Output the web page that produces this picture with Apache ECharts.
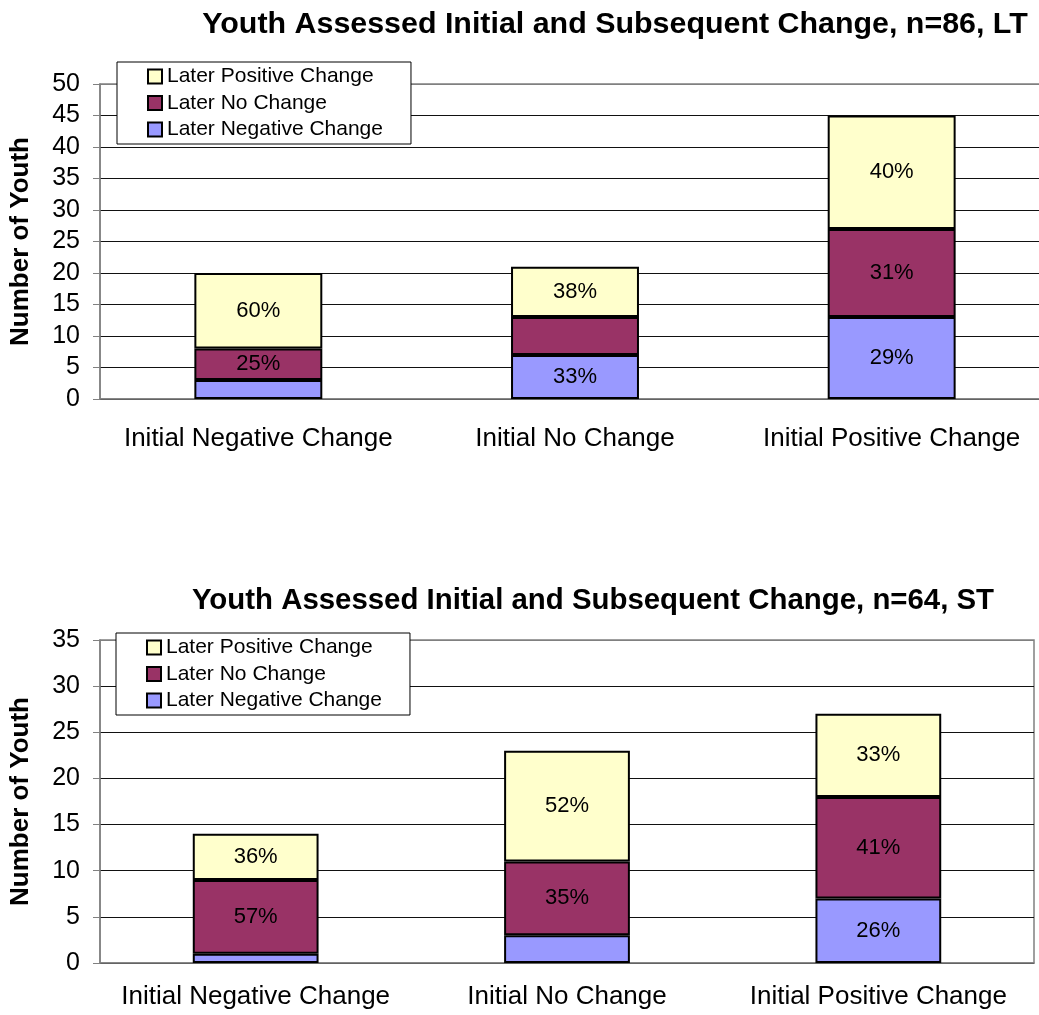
<!DOCTYPE html>
<html>
<head>
<meta charset="utf-8">
<title>Youth Assessed Initial and Subsequent Change</title>
<script src="https://cdn.jsdelivr.net/npm/echarts@6/dist/echarts.min.js"></script>
<style>
  html, body { margin: 0; padding: 0; background: #fff; overflow: hidden; }
  /* the top plot runs past the right edge of the page in the original */
  #chart { width: 1060px; height: 1015px; }
</style>
</head>
<body>
<div id="chart"></div>
<script>
// categories shared by both charts
var categories = ['Initial Negative Change', 'Initial No Change', 'Initial Positive Change'];
var seriesNames = ['Later Negative Change', 'Later No Change', 'Later Positive Change'];

// LT, n=86
var ltNegative = [3, 7, 13];
var ltNoChange = [5, 6, 14];
var ltPositive = [12, 8, 18];
var ltNegLabels = [null, '33%', '29%'];
var ltNoLabels = ['25%', null, '31%'];
var ltPosLabels = ['60%', '38%', '40%'];

// ST, n=64
var stNegative = [1, 3, 7];
var stNoChange = [8, 8, 11];
var stPositive = [5, 12, 9];
var stNegLabels = [null, null, '26%'];
var stNoLabels = ['57%', '35%', '41%'];
var stPosLabels = ['36%', '52%', '33%'];

var ltMax = 50, stMax = 35, yStep = 5;

var colors = ['#9999FF', '#993366', '#FFFFCC'];
var font = 'Liberation Sans, Arial, sans-serif';

function splitColors(max) {
  var arr = [];
  for (var i = 0; i <= max / yStep; i++) arr.push(i === max / yStep ? '#808080' : '#111');
  return arr;
}

function barSeries(name, data, labels, idx, stack, color) {
  return {
    name: name,
    type: 'bar',
    stack: stack,
    xAxisIndex: idx,
    yAxisIndex: idx,
    barWidth: '40.4%',
    data: data,
    itemStyle: { color: color, borderColor: '#000', borderWidth: 2 },
    label: {
      show: true,
      position: 'inside',
      color: '#000',
      fontFamily: font,
      fontSize: 22,
      formatter: function (p) { return labels[p.dataIndex] || ''; }
    }
  };
}

function xAxis(idx, margin) {
  return {
    type: 'category',
    gridIndex: idx,
    data: categories,
    axisLine: { lineStyle: { color: '#808080', width: 1.5 } },
    axisTick: { length: 8, lineStyle: { color: '#808080' } },
    axisLabel: { color: '#000', fontFamily: font, fontSize: 26, margin: margin, interval: 0, hideOverlap: false }
  };
}

function yAxis(idx, max) {
  return {
    type: 'value',
    gridIndex: idx,
    min: 0,
    max: max,
    interval: yStep,
    name: 'Number of Youth',
    nameLocation: 'middle',
    nameGap: 66,
    nameTextStyle: { color: '#000', fontFamily: font, fontSize: 26, fontWeight: 'bold' },
    axisLine: { show: true, lineStyle: { color: '#808080', width: 1.5 } },
    axisTick: { show: true, length: 7, lineStyle: { color: '#808080' } },
    axisLabel: { color: '#000', fontFamily: font, fontSize: 25, margin: 20 },
    splitLine: { lineStyle: { color: splitColors(max), width: 1 } }
  };
}

function legend(left, top) {
  return {
    orient: 'vertical',
    left: left,
    top: top,
    data: ['Later Positive Change', 'Later No Change', 'Later Negative Change'],
    backgroundColor: '#fff',
    borderColor: '#000',
    borderWidth: 1,
    padding: [4, 28, 4, 30],
    itemGap: 5.5,
    itemWidth: 14,
    itemHeight: 14,
    itemTextGap: 5,
    icon: 'rect',
    itemStyle: { borderColor: '#000', borderWidth: 2 },
    textStyle: { color: '#000', fontFamily: font, fontSize: 21 },
    selectedMode: false
  };
}

var chart = echarts.init(document.getElementById('chart'));
chart.setOption({
  animation: false,
  color: colors,
  title: [
    {
      text: 'Youth Assessed Initial and Subsequent Change, n=86, LT',
      left: 615, top: 10, padding: 0, textAlign: 'center',
      textStyle: { color: '#000', fontFamily: font, fontSize: 30.4, fontWeight: 'bold' }
    },
    {
      text: 'Youth Assessed Initial and Subsequent Change, n=64, ST',
      left: 593, top: 586, padding: 0, textAlign: 'center',
      textStyle: { color: '#000', fontFamily: font, fontSize: 29.4, fontWeight: 'bold' }
    }
  ],
  legend: [legend(117, 62), legend(116, 633)],
  grid: [
    { left: 100, top: 84, width: 950, height: 315, show: true, borderColor: '#808080', borderWidth: 1.5, backgroundColor: '#fff' },
    { left: 98, top: 640, width: 936, height: 323, show: true, borderColor: '#808080', borderWidth: 1.5, backgroundColor: '#fff' }
  ],
  xAxis: [xAxis(0, 27), xAxis(1, 21)],
  yAxis: [yAxis(0, ltMax), yAxis(1, stMax)],
  series: [
    barSeries(seriesNames[0], ltNegative, ltNegLabels, 0, 'lt', colors[0]),
    barSeries(seriesNames[1], ltNoChange, ltNoLabels, 0, 'lt', colors[1]),
    barSeries(seriesNames[2], ltPositive, ltPosLabels, 0, 'lt', colors[2]),
    barSeries(seriesNames[0], stNegative, stNegLabels, 1, 'st', colors[0]),
    barSeries(seriesNames[1], stNoChange, stNoLabels, 1, 'st', colors[1]),
    barSeries(seriesNames[2], stPositive, stPosLabels, 1, 'st', colors[2])
  ]
});
</script>
</body>
</html>
